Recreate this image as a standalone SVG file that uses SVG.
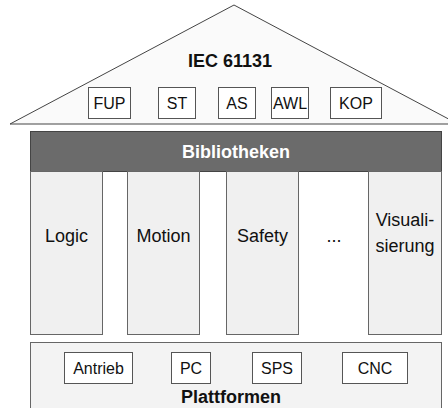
<svg xmlns="http://www.w3.org/2000/svg" width="448" height="408" viewBox="0 0 448 408">
<style>
text{font-family:"Liberation Sans",Arial,sans-serif;fill:#111;text-anchor:middle}
.big{font-size:18px}
.b{font-weight:bold}
.sm{font-size:16px}
.box{fill:#fff;stroke:#555;stroke-width:1}
.col{fill:#f0f0f0;stroke:#666;stroke-width:1}
</style>
<rect width="448" height="408" fill="#fff"/>
<g id="iec">
<polygon points="10,124 234,5 458,124" fill="#fafafa" stroke="#444" stroke-width="1"/>
<text x="230" y="67" class="big b">IEC 61131</text>
</g>
<g id="fup"><rect class="box" x="88.5" y="87.5" width="42" height="31"/><text class="sm" x="109.5" y="109">FUP</text></g>
<g id="st"><rect class="box" x="158.5" y="87.5" width="37" height="31"/><text class="sm" x="177" y="109">ST</text></g>
<g id="as"><rect class="box" x="218.5" y="87.5" width="37" height="31"/><text class="sm" x="237" y="109">AS</text></g>
<g id="awl"><rect class="box" x="271.5" y="87.5" width="37" height="31"/><text class="sm" x="290" y="109">AWL</text></g>
<g id="kop"><rect class="box" x="330.5" y="87.5" width="51" height="31"/><text class="sm" x="356" y="109">KOP</text></g>
<g id="bibliotheken">
<rect x="30.5" y="131.5" width="411" height="40" fill="#6b6b6b" stroke="#444"/>
<text x="236" y="158" class="big b" style="fill:#fff">Bibliotheken</text>
</g>
<g id="logic"><rect class="col" x="30.5" y="171.5" width="72" height="163"/><text class="big" x="66.5" y="242">Logic</text></g>
<g id="motion"><rect class="col" x="127.5" y="171.5" width="72" height="163"/><text class="big" x="163.5" y="242">Motion</text></g>
<g id="safety"><rect class="col" x="226.5" y="171.5" width="72" height="163"/><text class="big" x="262.5" y="242">Safety</text></g>
<g id="dots"><text class="big" x="334" y="242">...</text></g>
<g id="visualisierung"><rect class="col" x="368.5" y="171.5" width="73" height="163"/><text class="big" x="405" y="226">Visuali-</text><text class="big" x="405" y="252">sierung</text></g>
<g id="plattformen">
<rect x="30.5" y="342.5" width="411" height="80" fill="#f3f3f3" stroke="#666"/>
<text x="231" y="403" class="big b">Plattformen</text>
</g>
<g id="antrieb"><rect class="box" x="64.5" y="352.5" width="68" height="31"/><text class="sm" x="98.5" y="374">Antrieb</text></g>
<g id="pc"><rect class="box" x="171.5" y="352.5" width="39" height="31"/><text class="sm" x="191" y="374">PC</text></g>
<g id="sps"><rect class="box" x="252.5" y="352.5" width="49" height="31"/><text class="sm" x="277" y="374">SPS</text></g>
<g id="cnc"><rect class="box" x="342.5" y="352.5" width="65" height="31"/><text class="sm" x="375" y="374">CNC</text></g>
<g id="connectors"></g>
</svg>
